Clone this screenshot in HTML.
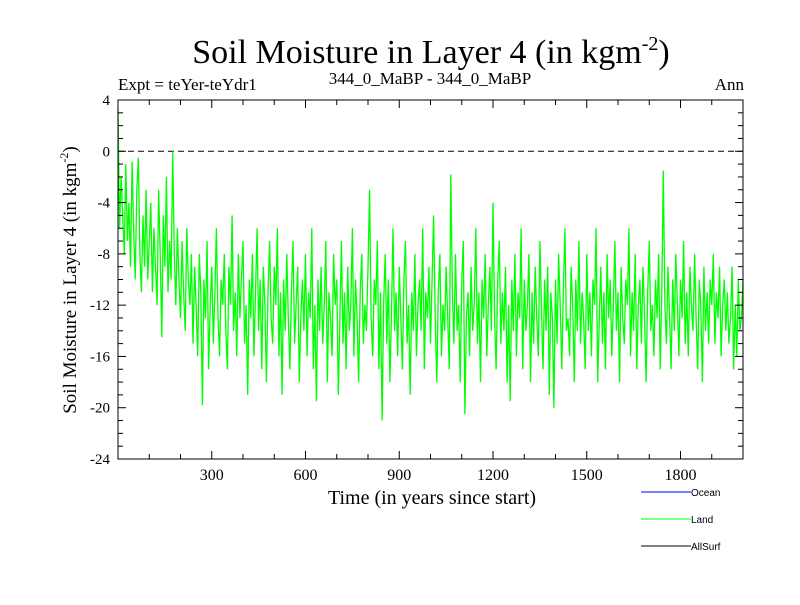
<!DOCTYPE html>
<html><head><meta charset="utf-8"><style>
body{margin:0;background:#fff;}
svg text{font-family:"Liberation Serif",serif;fill:#000;}
</style></head><body>
<svg id="chart" width="800" height="600" xmlns="http://www.w3.org/2000/svg">
<text x="431" y="63" font-size="34" text-anchor="middle">Soil Moisture in Layer 4 (in kgm<tspan dy="-13" font-size="20">-2</tspan><tspan dy="13">)</tspan></text>
<text x="118" y="90" font-size="17">Expt = teYer-teYdr1</text>
<text x="430" y="84" font-size="17" text-anchor="middle">344_0_MaBP - 344_0_MaBP</text>
<text x="744" y="90" font-size="17" text-anchor="end">Ann</text>
<text transform="translate(76,280) rotate(-90)" font-size="19" text-anchor="middle">Soil Moisture in Layer 4 (in kgm<tspan dy="-8" font-size="12">-2</tspan><tspan dy="8">)</tspan></text>
<text x="432" y="504" font-size="20" text-anchor="middle">Time (in years since start)</text>
<g id="plot"></g>
<g>
<line x1="641" y1="492" x2="691" y2="492" stroke="#0000ff"/>
<text x="691" y="496" font-size="10" style="font-family:'Liberation Sans',sans-serif">Ocean</text>
<line x1="641" y1="519" x2="691" y2="519" stroke="#00ff00"/>
<text x="691" y="523" font-size="10" style="font-family:'Liberation Sans',sans-serif">Land</text>
<line x1="641" y1="546" x2="691" y2="546" stroke="#000"/>
<text x="691" y="550" font-size="10" style="font-family:'Liberation Sans',sans-serif">AllSurf</text>
</g>
</svg>
<script>
const years_step = 5;
const landValues = [
3.2,-6,-2,-5,-8,-1,-7,-4,-9,-0.8,
-6,-10,-3,-0.5,-8,-11,-5,-9,-3,-10,
-7,-4,-11,-6,-9,-12,-3,-8,-14.5,-5,
-9,-2,-11,-7,-10,0,-8,-12,-6,-10,
-13,-7,-11,-14,-6,-10,-12,-8,-15,-9,
-12,-16,-8,-11,-19.8,-10,-13,-7,-17,-12,
-9,-15,-11,-6,-13,-16,-10,-12,-8,-14,
-17,-9,-12,-5,-14,-11,-16,-8,-13,-10,
-7,-15,-12,-19,-10,-13,-8,-16,-11,-6,
-14,-10,-17,-9,-12,-18,-11,-7,-13,-15,
-9,-12,-6,-16,-11,-19,-10,-14,-8,-13,
-17,-11,-7,-15,-12,-9,-18,-13,-10,-14,
-8,-16,-11,-13,-6,-17,-12,-19.5,-10,-14,
-9,-15,-12,-7,-18,-11,-13,-16,-8,-12,
-10,-19,-13,-7,-15,-11,-17,-9,-14,-12,
-6,-16,-10,-13,-18,-11,-8,-15,-12,-14,
-9,-3,-13,-16,-10,-12,-7,-17,-11,-21,
-12,-8,-15,-10,-18,-13,-6,-14,-11,-16,
-9,-13,-17,-10,-7,-15,-12,-19,-11,-14,
-8,-16,-12,-10,-14,-6,-17,-11,-13,-9,
-15,-10,-5,-13,-18,-11,-8,-16,-12,-14,
-9,-13,-17,-1.8,-11,-15,-8,-14,-12,-18,
-10,-7,-20.5,-13,-11,-16,-9,-14,-12,-6,
-15,-11,-18,-10,-13,-8,-16,-12,-9,-14,
-4,-13,-17,-10,-7,-15,-11,-14,-9,-18,
-12,-19.5,-10,-14,-8,-16,-11,-13,-6,-17,
-10,-14,-12,-8,-18,-11,-15,-9,-13,-16,
-7,-12,-17,-10,-14,-9,-19,-11,-13,-20,
-10,-15,-8,-12,-17,-11,-6,-14,-13,-16,
-9,-12,-18,-10,-14,-7,-15,-11,-13,-17,
-8,-14,-11,-16,-10,-12,-6,-18,-13,-9,
-15,-11,-17,-8,-13,-10,-16,-12,-7,-14,
-11,-18,-9,-13,-15,-10,-12,-6,-16,-11,
-14,-8,-17,-12,-10,-15,-9,-13,-18,-11,
-7,-14,-12,-16,-10,-13,-8,-17,-11,-1.5,
-12,-15,-9,-13,-17,-10,-14,-8,-12,-16,
-10,-13,-7,-15,-11,-16,-9,-12,-14,-8,
-13,-17,-10,-12,-18,-9,-14,-11,-15,-10,
-12,-8,-15,-11,-13,-9,-16,-12,-10,-14,
-11,-15,-13,-9,-17,-12,-16,-10,-14,-13,
-10];
const xTicks = [300,600,900,1200,1500,1800];
const yTicks = [4,0,-4,-8,-12,-16,-20,-24];
const X0=118,X1=743,Y0=100,Y1=459,xMin=0,xMax=2000,yMin=-24,yMax=4;
const sx=v=>X0+(v-xMin)/(xMax-xMin)*(X1-X0);
const sy=v=>Y1-(v-yMin)/(yMax-yMin)*(Y1-Y0);
const NS="http://www.w3.org/2000/svg";
const g=document.getElementById('plot');
function mk(t,a){const e=document.createElementNS(NS,t);for(const k in a)e.setAttribute(k,a[k]);g.appendChild(e);return e;}
let z=mk('line',{x1:X0,x2:X1,y1:sy(0),y2:sy(0),stroke:'#000','stroke-dasharray':'6,4'});


let pts=landValues.map((v,i)=>sx(i*years_step).toFixed(1)+','+sy(v).toFixed(1)).join(' ');
let pl=mk('polyline',{points:pts,fill:'none',stroke:'#00ff00','stroke-width':1.3});


let fr=mk('rect',{x:X0,y:Y0,width:X1-X0,height:Y1-Y0,fill:'none',stroke:'#000'});


for(let v=100;v<xMax;v+=100){
 const maj=v%300===0,l=maj?8:5;
 mk('line',{x1:sx(v),x2:sx(v),y1:Y1,y2:Y1-l,stroke:'#000'});
 mk('line',{x1:sx(v),x2:sx(v),y1:Y0,y2:Y0+l,stroke:'#000'});
}
xTicks.forEach(v=>{const t=mk('text',{x:sx(v),y:Y1+21,'font-size':16,'text-anchor':'middle'});t.textContent=v;

});
for(let v=yMin+1;v<yMax;v++){
 const maj=v%4===0,l=maj?8:5;
 mk('line',{x1:X0,x2:X0+l,y1:sy(v),y2:sy(v),stroke:'#000'});
 mk('line',{x1:X1,x2:X1-l,y1:sy(v),y2:sy(v),stroke:'#000'});
}
yTicks.forEach(v=>{const t=mk('text',{x:X0-8,y:sy(v)+5,'font-size':15,'text-anchor':'end'});t.textContent=v;

});
</script>
</body></html>
